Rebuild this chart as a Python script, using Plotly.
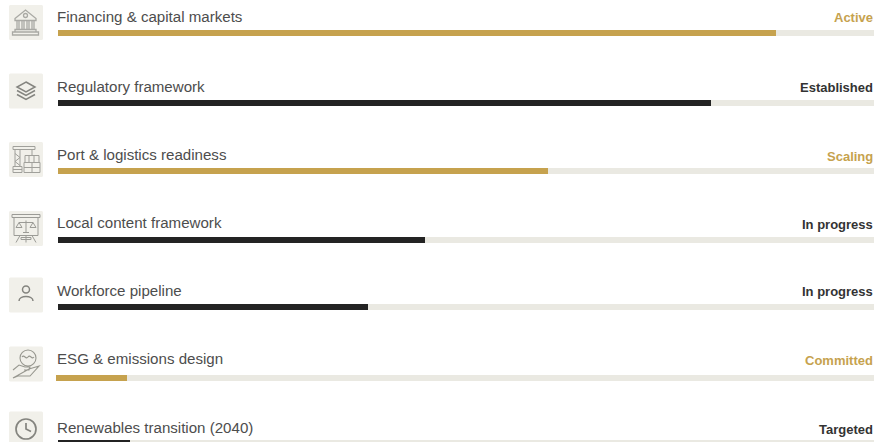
import plotly.graph_objects as go

# Readiness scorecard: one progress bar per workstream
workstreams = ["Financing & capital markets", "Regulatory framework", "Port & logistics readiness",
               "Local content framework", "Workforce pipeline", "ESG & emissions design",
               "Renewables transition (2040)"]
progress = [88, 80, 60, 45, 38, 8.5, 8.8]
statuses = ["Active", "Established", "Scaling", "In progress", "In progress", "Committed", "Targeted"]
accent = [True, False, True, False, False, True, False]

GOLD = "#c6a24e"
INK = "#232323"
TRACK = "#eae9e2"
TEXT = "#4d4d4d"
TILE = "#f1f0ea"

W, H = 874, 442
LEFT = 58
bar_centres = [33, 102.5, 171, 240, 307, 378, 443]
label_centres = [16.5, 86, 154.5, 222.5, 290, 358.5, 427.5]
icon_centres = [22.5, 91, 159.5, 228.5, 295, 364, 429]
bar_offset = [0, 0, 0, 0, 0, -0.25, 0]

colors = [GOLD if a else INK for a in accent]

fig = go.Figure()
fig.add_bar(y=bar_centres, x=[100] * len(progress), orientation="h", width=6,
            marker=dict(color=TRACK, line_width=0), hoverinfo="skip")
fig.add_bar(y=bar_centres, x=[p - o for p, o in zip(progress, bar_offset)], base=bar_offset,
            orientation="h", width=6, marker=dict(color=colors, line_width=0),
            text=statuses, hovertemplate="%{text}<extra></extra>", textposition="none")


def shape(path, **kw):
    style = dict(type="path", path=path, xref="x2", yref="y", layer="above",
                 fillcolor="rgba(0,0,0,0)")
    style.update(kw)
    return style


def at(cy, segments):
    """Build an SVG path from segments given relative to a tile centre."""
    out = []
    for cmd, *pts in segments:
        coords = [f"{26 + x:.2f},{cy + y:.2f}" for x, y in pts]
        out.append(cmd + " ".join(coords))
    return " ".join(out)


def line(*pts):
    return [("M", pts[0])] + [("L", p) for p in pts[1:]]


def rect(x0, y0, x1, y1):
    return line((x0, y0), (x1, y0), (x1, y1), (x0, y1)) + [("Z",)]


def circle(cx, cy, r):
    k = 0.5523 * r
    return [("M", (cx - r, cy)),
            ("C", (cx - r, cy - k), (cx - k, cy - r), (cx, cy - r)),
            ("C", (cx + k, cy - r), (cx + r, cy - k), (cx + r, cy)),
            ("C", (cx + r, cy + k), (cx + k, cy + r), (cx, cy + r)),
            ("C", (cx - k, cy + r), (cx - r, cy + k), (cx - r, cy)), ("Z",)]


def bank():
    s = line((-11, -4), (-0.5, -12.5), (10, -4), (10, -2), (-11, -2)) + [("Z",)]
    s += circle(-0.5, -7, 2)
    for x in (-9, -7, -4, -2, 1, 3, 6, 8):
        s += line((x, -2), (x, 7))
    s += rect(-11, 7, 10, 9.5) + rect(-13.5, 9.5, 12.5, 12.5)
    return s


def layers():
    s = line((0, -9), (9, -4), (0, 1), (-9, -4)) + [("Z",)]
    s += line((-9, -0.5), (0, 4.5), (9, -0.5))
    s += line((-9, 3.5), (0, 8.5), (9, 3.5))
    return s


def crane():
    s = rect(-13, -13, 9, -10)
    s += line((-11, -10), (-11, 7)) + line((-6, -10), (-6, 7))
    s += line((-11, -6), (-6, -2), (-11, 2), (-6, 6))
    s += rect(-13, 7, -4, 13) + line((-13, 10), (-4, 10))
    s += line((6, -10), (6, -4))
    s += rect(-1, -4, 13, 3) + rect(-2, 3, 14, 13)
    s += line((3, -4), (3, 3)) + line((8, -4), (8, 3))
    s += line((6, 3), (6, 13)) + line((-2, 8), (14, 8))
    return s


def board():
    s = rect(-14, -14, 14, -11) + rect(-12, -11, 12, 7)
    s += line((-6, 7), (-10, 14)) + line((6, 7), (10, 14)) + line((0, 7), (0, 14))
    s += rect(-5, 9, 5, 11)
    s += line((0, -8), (0, 4)) + line((-7, -6), (7, -6)) + line((-3, 4), (3, 4))
    s += line((-7, -6), (-10, -1), (-4, -1)) + [("Z",)]
    s += line((7, -6), (4, -1), (10, -1)) + [("Z",)]
    return s


def person():
    s = circle(0, -5.5, 3.5)
    s += [("M", (-7, 6)), ("C", (-7, 0), (7, 0), (7, 6))]
    return s


def hand():
    s = circle(2, -6, 8)
    s += [("M", (-4, -7)), ("C", (-2, -10), (0, -4), (2, -7)), ("C", (4, -10), (6, -4), (8, -7))]
    s += line((-13, 6), (-7, 1), (-1, 3), (4, 3), (3, 6), (-2, 6))
    s += line((3, 5), (13, 2), (4, 12), (-8, 12), (-13, 14)) + [("Z",)]
    return s


def clock():
    s = circle(0, 0, 10)
    s += line((0, -6), (0, 0), (5, 2.5))
    return s


glyphs = [bank(), layers(), crane(), board(), person(), hand(), clock()]
glyph_widths = [1.3, 1.5, 1.0, 1.0, 1.5, 1.1, 1.7]
glyph_colors = ["#a9a9a4", "#84847f", "#a0a09b", "#9b9b96", "#84847f", "#97978f", "#84847f"]

shapes = []
for cy, glyph, lw, col in zip(icon_centres, glyphs, glyph_widths, glyph_colors):
    r = 3
    x0, x1, y0, y1 = -17, 17, -17.5, 17.5
    tile = [("M", (x0 + r, y0)), ("L", (x1 - r, y0)), ("C", (x1, y0), (x1, y0), (x1, y0 + r)),
            ("L", (x1, y1 - r)), ("C", (x1, y1), (x1, y1), (x1 - r, y1)),
            ("L", (x0 + r, y1)), ("C", (x0, y1), (x0, y1), (x0, y1 - r)),
            ("L", (x0, y0 + r)), ("C", (x0, y0), (x0, y0), (x0 + r, y0)), ("Z",)]
    shapes.append(shape(at(cy, tile), fillcolor=TILE, line=dict(width=0), layer="below"))
    shapes.append(shape(at(cy, glyph), line=dict(color=col, width=lw)))

annotations = []
for name, status, ly, gold in zip(workstreams, statuses, label_centres, accent):
    annotations.append(dict(text=name, x=LEFT - 1, y=ly, xref="x2", yref="y", xanchor="left",
                            yanchor="middle", showarrow=False, borderwidth=0, borderpad=0,
                            font=dict(family="Liberation Sans", size=15.1, color=TEXT)))
    annotations.append(dict(text=f"<b>{status}</b>", x=W - 1, y=ly + (1.5 if status != "Active" else 0.5),
                            xref="x2", yref="y", xanchor="right", yanchor="middle", showarrow=False,
                            borderwidth=0, borderpad=0,
                            font=dict(family="Liberation Sans", size=13, color=GOLD if gold else "#333333")))

fig.update_layout(
    width=W, height=H, margin=dict(l=0, r=0, t=0, b=0), autosize=False,
    paper_bgcolor="white", plot_bgcolor="white", showlegend=False,
    barmode="overlay", bargap=0,
    xaxis=dict(range=[-LEFT * 100 / (W - LEFT), 100], domain=[0, 1], visible=False, fixedrange=True),
    xaxis2=dict(range=[0, W], domain=[0, 1], overlaying="x", visible=False, fixedrange=True),
    yaxis=dict(range=[H, 0], domain=[0, 1], visible=False, fixedrange=True),
    shapes=shapes, annotations=annotations,
)
# A hidden trace keeps the pixel-scale x axis alive for the icons and labels
fig.add_scatter(x=[0], y=[0], xaxis="x2", yaxis="y", mode="markers", marker=dict(opacity=0), hoverinfo="skip")

fig.write_html("out.html", config={"displayModeBar": False})
